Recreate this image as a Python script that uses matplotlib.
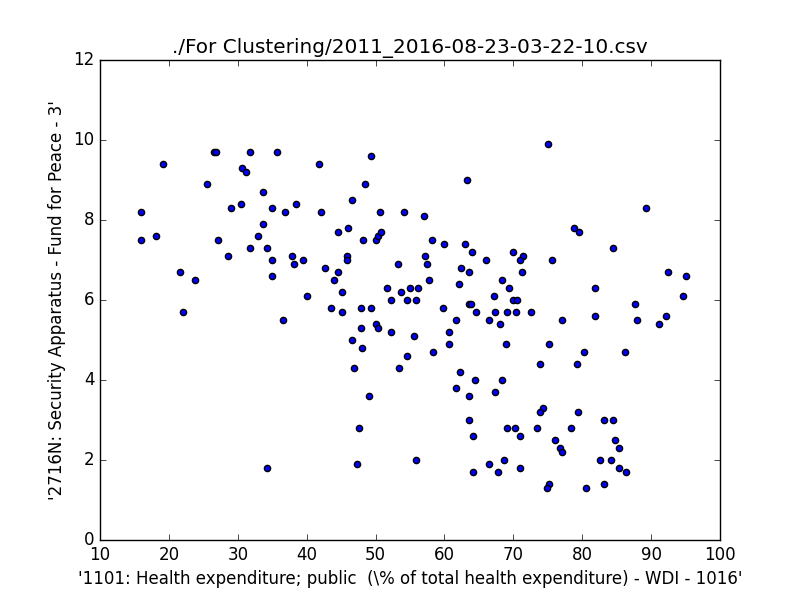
import matplotlib
matplotlib.use('Agg')
import matplotlib.pyplot as plt

# values
health_exp = [
    15.9, 16.0, 18.2, 19.2, 21.6, 22.1, 23.8, 25.6, 26.5, 26.9, 27.2, 28.6,
    29.0, 30.5, 30.6, 31.2, 31.8, 31.8, 33.0, 33.7, 33.7, 34.3, 34.9, 35.0,
    35.0, 34.3, 35.7, 36.6, 36.9, 37.9, 38.1, 38.5, 39.5, 40.1,
    41.8, 42.1, 42.7, 43.5, 44.0, 44.6, 44.6, 45.2, 45.2, 45.8, 45.8, 46.0,
    46.6, 47.9, 48.2, 48.5, 49.4, 49.4, 50.1, 50.3, 50.7, 50.8, 51.7, 52.3,
    53.3, 53.7, 54.2, 54.6, 55.0, 55.9, 56.1, 57.1, 57.2, 57.5, 57.7, 58.2,
    59.8, 60.0, 61.7, 62.1, 62.4, 63.0, 63.3, 63.6, 63.6, 63.9, 64.0, 64.6,
    66.1, 66.5, 67.2, 67.4, 68.0, 47.9, 50.0, 50.4,
    52.3, 55.6, 60.6, 46.6, 48.1, 60.6, 54.6, 58.4, 46.9, 53.4, 62.3, 64.5,
    61.7, 67.4, 63.6, 49.1, 63.6, 47.6, 64.2, 47.3, 55.9, 66.5, 64.2, 67.8,
    75.1, 89.3, 78.85, 79.6, 84.5, 70.0, 71.4, 70.9, 75.6, 71.3, 92.5, 95.1,
    68.4, 69.4, 81.9, 94.6, 70.0, 70.6, 87.6, 69.1, 70.4, 72.6, 92.1, 81.9,
    77.1, 88.0, 91.2,
    69.0, 75.2, 80.3, 86.2, 73.9, 79.3, 68.4, 74.3, 73.9, 79.4, 83.2, 84.5,
    69.1, 70.3, 73.5, 78.3, 71.0, 76.1, 84.8, 76.8, 77.1, 85.4, 68.7, 82.6,
    84.2, 71.0, 85.4, 86.4, 75.2, 74.9, 80.6, 83.2,
]
security = [
    8.2, 7.5, 7.6, 9.4, 6.7, 5.7, 6.5, 8.9, 9.7, 9.7, 7.5, 7.1,
    8.3, 8.4, 9.3, 9.2, 9.7, 7.3, 7.6, 8.7, 7.9, 7.3, 8.3, 7.0,
    6.6, 1.8, 9.7, 5.5, 8.2, 7.1, 6.9, 8.4, 7.0, 6.1,
    9.4, 8.2, 6.8, 5.8, 6.5, 6.7, 7.7, 6.2, 5.7, 7.1, 7.0, 7.8,
    8.5, 5.8, 7.5, 8.9, 9.6, 5.8, 7.5, 7.6, 8.2, 7.7, 6.3, 6.0,
    6.9, 6.2, 8.2, 6.0, 6.3, 6.0, 6.3, 8.1, 7.1, 6.9, 6.5, 7.5,
    5.8, 7.4, 5.5, 6.4, 6.8, 7.4, 9.0, 6.7, 5.9, 5.9, 7.2, 5.7,
    7.0, 5.5, 6.1, 5.7, 5.4, 5.3, 5.4, 5.3,
    5.2, 5.1, 5.2, 5.0, 4.8, 4.9, 4.6, 4.7, 4.3, 4.3, 4.2, 4.0,
    3.8, 3.7, 3.6, 3.6, 3.0, 2.8, 2.6, 1.9, 2.0, 1.9, 1.7, 1.7,
    9.9, 8.3, 7.8, 7.7, 7.3, 7.2, 7.1, 7.0, 7.0, 6.7, 6.7, 6.6,
    6.5, 6.3, 6.3, 6.1, 6.0, 6.0, 5.9, 5.7, 5.7, 5.7, 5.6, 5.6,
    5.5, 5.5, 5.4,
    4.9, 4.9, 4.7, 4.7, 4.4, 4.4, 4.0, 3.3, 3.2, 3.2, 3.0, 3.0,
    2.8, 2.8, 2.8, 2.8, 2.6, 2.5, 2.5, 2.3, 2.2, 2.3, 2.0, 2.0,
    2.0, 1.8, 1.8, 1.7, 1.4, 1.3, 1.3, 1.4,
]

plt.style.use('classic')
fig = plt.figure(figsize=(8, 6), dpi=100)
ax = fig.add_subplot(111)
ax.scatter(health_exp, security, c='b', s=20, edgecolors='k')
ax.set_xlim(10, 100)
ax.set_ylim(0, 12)
ax.set_title('./For Clustering/2011_2016-08-23-03-22-10.csv')
ax.set_xlabel(r"'1101: Health expenditure; public  (\% of total health expenditure) - WDI - 1016'")
ax.set_ylabel("'2716N: Security Apparatus - Fund for Peace - 3'")
fig.savefig('out.png', dpi=100)
